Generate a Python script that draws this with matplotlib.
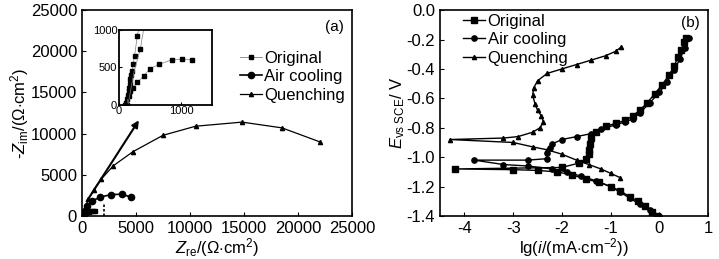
import numpy as np
import matplotlib.pyplot as plt

plt.rcParams['font.family'] = ['Liberation Sans', 'DejaVu Sans']
plt.rcParams['mathtext.fontset'] = 'custom'
plt.rcParams['mathtext.rm'] = 'Liberation Sans'
plt.rcParams['mathtext.it'] = 'Liberation Sans:italic'

# (a) Nyquist data
orig_zre = [110, 140, 160, 180, 200, 230, 300, 400, 500, 650, 850, 1020, 1180]
orig_zim = [0, 100, 180, 260, 330, 230, 300, 380, 480, 540, 600, 610, 600]
air_zre = [100, 250, 500, 900, 1700, 2700, 3700, 4500]
air_zim = [0, 600, 1200, 1800, 2300, 2600, 2650, 2300]
quen_zre = [100, 300, 600, 1100, 1800, 2900, 4700, 7500, 10500, 14800, 18500, 22000]
quen_zim = [0, 1000, 2100, 3200, 4500, 6100, 7800, 9800, 10900, 11400, 10700, 9000]

# inset (Original, zoomed)
ins_a_x = [110, 125, 140, 150, 160, 170, 180, 190, 200, 215, 235, 255, 300, 330]
ins_a_y = [0, 30, 80, 130, 180, 230, 280, 340, 400, 450, 550, 650, 920, 1050]
ins_b_x = [130, 160, 190, 230, 300, 400, 500, 650, 850, 1020, 1180]
ins_b_y = [0, 120, 180, 230, 300, 380, 480, 540, 600, 610, 600]
ins_c_x = [150, 250, 350, 410]
ins_c_y = [0, 450, 750, 1050]

# (b) polarization data
orig_lg = [-0.05, -0.15, -0.3, -0.45, -0.6, -0.8, -1.0, -1.25, -1.5, -1.8, -2.1, -2.5, -3.0, -4.2,
           -2.0, -1.65, -1.5, -1.45, -1.45, -1.43, -1.4, -1.3, -1.1, -0.9, -0.7, -0.55, -0.4,
           -0.25, -0.1, 0.05, 0.2, 0.3, 0.38, 0.45, 0.5, 0.55]
orig_E = [-1.40, -1.37, -1.33, -1.30, -1.27, -1.23, -1.20, -1.17, -1.15, -1.12, -1.10, -1.09, -1.085, -1.08,
          -1.07, -1.04, -1.01, -0.98, -0.95, -0.91, -0.87, -0.83, -0.79, -0.77, -0.75, -0.72, -0.68,
          -0.63, -0.57, -0.51, -0.44, -0.38, -0.32, -0.27, -0.22, -0.19]
air_lg = [0.0, -0.2, -0.4, -0.6, -0.8, -1.0, -1.3, -1.6, -1.9, -2.2, -2.7, -3.2, -3.8,
          -2.7, -2.3, -2.3, -2.25, -2.2, -2.0, -1.7, -1.4, -1.2, -0.9, -0.7, -0.55, -0.4,
          -0.2, 0.0, 0.15, 0.3, 0.42, 0.52, 0.6]
air_E = [-1.40, -1.36, -1.32, -1.28, -1.24, -1.20, -1.16, -1.13, -1.10, -1.08, -1.06, -1.05, -1.02,
         -1.02, -1.01, -0.97, -0.94, -0.91, -0.88, -0.86, -0.84, -0.81, -0.78, -0.76, -0.74, -0.70,
         -0.63, -0.56, -0.49, -0.41, -0.33, -0.26, -0.19]
quen_lg = [-0.8, -1.0, -1.2, -1.45, -1.7, -2.0, -2.3, -2.6, -3.0, -4.3,
           -3.2, -2.9, -2.6, -2.45, -2.38, -2.42, -2.5, -2.55, -2.6, -2.58, -2.5, -2.3,
           -2.0, -1.7, -1.4, -1.1, -0.9, -0.78]
quen_E = [-1.14, -1.11, -1.08, -1.05, -1.02, -0.98, -0.95, -0.93, -0.90, -0.88,
          -0.87, -0.86, -0.83, -0.80, -0.76, -0.72, -0.68, -0.64, -0.58, -0.53, -0.48, -0.43,
          -0.40, -0.37, -0.34, -0.31, -0.28, -0.25]

fig = plt.figure(figsize=(7.19, 2.59), dpi=100)
ax1 = fig.add_axes([0.114, 0.166, 0.376, 0.795])
ax2 = fig.add_axes([0.612, 0.166, 0.373, 0.795])

# panel a
ax1.plot(orig_zre, orig_zim, color='gray', lw=0.6, marker='s', ms=3.5, mfc='k', mec='k', label='Original')
ax1.plot(air_zre, air_zim, color='k', lw=1.2, marker='o', ms=4.5, label='Air cooling')
ax1.plot(quen_zre, quen_zim, color='k', lw=0.9, marker='^', ms=3, label='Quenching')
ax1.plot([2000, 2000], [0, 1400], color='k', lw=1.2, ls=(0, (1.5, 1.2)))
ax1.annotate('', xy=(5400, 11900), xytext=(300, 1500),
             arrowprops=dict(arrowstyle='-|>', color='k', lw=1.5, mutation_scale=10))
ax1.set_xlim(0, 25000)
ax1.set_ylim(0, 25000)
ax1.set_xticks([0, 5000, 10000, 15000, 20000, 25000])
ax1.set_yticks([0, 5000, 10000, 15000, 20000, 25000])
ax1.tick_params(direction='in', labelsize=12, length=3)
ax1.set_xlabel(r'$Z_{\rm re}$/($\Omega$$\cdot$cm$^2$)', fontsize=12, labelpad=0)
ax1.set_ylabel(r'-$Z_{\rm im}$/($\Omega$$\cdot$cm$^2$)', fontsize=12, labelpad=0)
ax1.text(0.97, 0.95, '(a)', transform=ax1.transAxes, ha='right', va='top', fontsize=11)
ax1.legend(loc='upper right', bbox_to_anchor=(1.01, 0.85), frameon=False, fontsize=12,
           handlelength=1.3, handletextpad=0.15, labelspacing=0.2, borderaxespad=0.2)

ins = fig.add_axes([0.165, 0.595, 0.13, 0.29])
ins.plot(ins_a_x, ins_a_y, color='gray', lw=0.5, marker='s', ms=2.5, mfc='k', mec='k', markevery=range(13))
ins.plot(ins_b_x, ins_b_y, color='gray', lw=0.5, marker='s', ms=2.5, mfc='k', mec='k')
ins.plot(ins_c_x, ins_c_y, color='gray', lw=0.5, marker='s', ms=3, mfc='k', mec='k', markevery=[2])
ins.set_xlim(0, 1500)
ins.set_ylim(0, 1000)
ins.set_xticks([0, 1000])
ins.set_yticks([0, 500, 1000])
ins.tick_params(direction='in', labelsize=8, length=2, pad=1)
for s in ins.spines.values():
    s.set_linewidth(1.3)

# panel b
ax2.plot(orig_lg, orig_E, color='k', lw=1, marker='s', ms=3.8, label='Original')
ax2.plot(air_lg, air_E, color='k', lw=1, marker='o', ms=3.8, label='Air cooling')
ax2.plot(quen_lg, quen_E, color='k', lw=1, marker='^', ms=3, label='Quenching')
ax2.set_xlim(-4.5, 1)
ax2.set_ylim(-1.4, 0)
ax2.set_xticks([-4, -3, -2, -1, 0, 1])
ax2.set_yticks(np.arange(-1.4, 0.01, 0.2))
ax2.set_yticklabels(['-1.4', '-1.2', '-1.0', '-0.8', '-0.6', '-0.4', '-0.2', '0.0'])
ax2.set_xticklabels(['-4', '-3', '-2', '-1', '0', '1'])
ax2.tick_params(direction='in', labelsize=12, length=3)
ax2.set_xlabel(r'lg($i$/(mA$\cdot$cm$^{-2}$))', fontsize=12, labelpad=0)
ax2.set_ylabel(r'$E_{\rm vs\ SCE}$/ V', fontsize=12, labelpad=0)
ax2.text(0.97, 0.97, '(b)', transform=ax2.transAxes, ha='right', va='top', fontsize=11)
ax2.legend(loc='upper left', frameon=False, fontsize=12, bbox_to_anchor=(0.05, 1.03),
           handlelength=1.3, handletextpad=0.15, labelspacing=0.2, borderaxespad=0.2)

for ax in (ax1, ax2):
    for s in ax.spines.values():
        s.set_linewidth(1.2)

fig.savefig('out.png', dpi=100)
